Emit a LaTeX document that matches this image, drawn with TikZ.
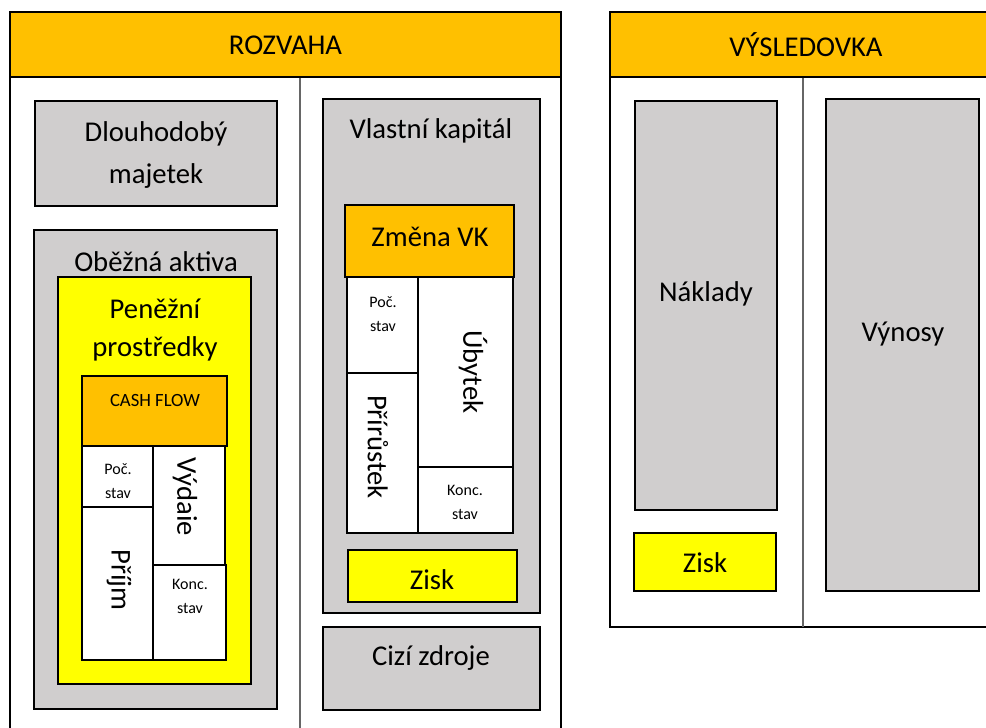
\documentclass[tikz,border=0pt]{standalone}
\usepackage{fontspec}
\setmainfont{Carlito}
\definecolor{headorange}{HTML}{FFC000}
\definecolor{boxgray}{HTML}{D0CECE}
\definecolor{cashyellow}{HTML}{FFFF00}
\tikzset{
  frame/.style={draw=black, line width=1.5pt},
  divider/.style={draw=black!60, line width=0.8pt},
  graybox/.style={fill=boxgray, draw=black, line width=1.8pt},
  yellowbox/.style={fill=cashyellow, draw=black, line width=1.8pt},
  orangebox/.style={fill=headorange, draw=black, line width=1.8pt},
  whitebox/.style={fill=white, draw=black, line width=1.8pt},
  big/.style={font=\fontsize{21.5}{32}\selectfont, align=center, inner sep=0pt},
  mid/.style={font=\fontsize{14}{17}\selectfont, align=center, inner sep=0pt},
  small/.style={font=\fontsize{12}{18}\selectfont, align=center, inner sep=0pt}
}
\begin{document}
\begin{tikzpicture}[x=0.75pt, y=-0.75pt]
    \useasboundingbox (0,0) rectangle (986,728);
    \clip (0,0) rectangle (986,728);

    % Rozvaha frame
    \draw[frame] (10,12) rectangle (561,740);
    \draw[divider] (300,77) -- (300,740);
    \draw[frame, fill=headorange] (10,12) rectangle (561,77);
    \node[big] (rozvaha) at (285.5,45) {ROZVAHA};

    % Aktiva
    \draw[graybox] (35,101) rectangle (277,206);
    \node[big] (dlouhodoby) at (156,155) {Dlouhodobý\\majetek};
    \draw[graybox] (34,230) rectangle (277,709);
    \node[big] (obezna) at (156,262) {Oběžná aktiva};
    \draw[yellowbox] (58,277) rectangle (251,684);
    \node[big, font=\fontsize{21.5}{28.5}\selectfont] (penezni) at (155,330) {Peněžní\\prostředky};

    % Cash flow
    \draw[orangebox] (82,376) rectangle (227,446);
    \node[mid] (cashflow) at (155,401) {CASH FLOW};
    \draw[whitebox] (82,446) rectangle (153,507);
    \node[small] (pocstav) at (118,481) {Poč.\\stav};
    \draw[whitebox] (82,507) rectangle (153,660);
    \node[big, rotate=-90] (prijm) at (119,580) {Příjm};
    \draw[whitebox] (153,446) rectangle (225,565);
    \node[big, rotate=-90] (vydaje) at (185,497) {Výdaie};
    \draw[whitebox] (153,565) rectangle (226,660);
    \node[small] (koncstav) at (190,596) {Konc.\\stav};

    % Pasiva
    \draw[graybox] (323,99) rectangle (540,613);
    \node[big] (vlastni) at (431,131) {Vlastní kapitál};
    \draw[orangebox] (345,205) rectangle (514,277);
    \node[big] (zmenavk) at (430,237) {Změna VK};
    \draw[whitebox] (347,277) rectangle (418,373);
    \node[small] (pocvk) at (383,314) {Poč.\\stav};
    \draw[whitebox] (347,373) rectangle (418,533);
    \node[big, rotate=-90] (prirustek) at (378,447) {Přírůstek};
    \draw[whitebox] (418,277) rectangle (513,467);
    \node[big, rotate=-90] (ubytek) at (473,372) {Úbytek};
    \draw[whitebox] (418,467) rectangle (513,533);
    \node[small] (koncvk) at (465,502) {Konc.\\stav};
    \draw[yellowbox] (348,550) rectangle (517,602);
    \node[big] (ziskvk) at (432,580) {Zisk};
    \draw[graybox] (323,627) rectangle (540,710);
    \node[big] (cizi) at (431,658) {Cizí zdroje};

    % Vysledovka frame
    \draw[frame] (610,12) rectangle (1000,627);
    \draw[divider] (803,77) -- (803,627);
    \draw[frame, fill=headorange] (610,12) rectangle (1000,77);
    \node[big] (vysledovka) at (806,45) {VÝSLEDOVKA};

    % Naklady a vynosy
    \draw[graybox] (635,101) rectangle (777,510);
    \node[big] (naklady) at (706,294) {Náklady};
    \draw[yellowbox] (634,533) rectangle (776,591);
    \node[big] (zisk) at (705,563) {Zisk};
    \draw[graybox] (826,99) rectangle (979,591);
    \node[big] (vynosy) at (903,334) {Výnosy};
\end{tikzpicture}
\end{document}
